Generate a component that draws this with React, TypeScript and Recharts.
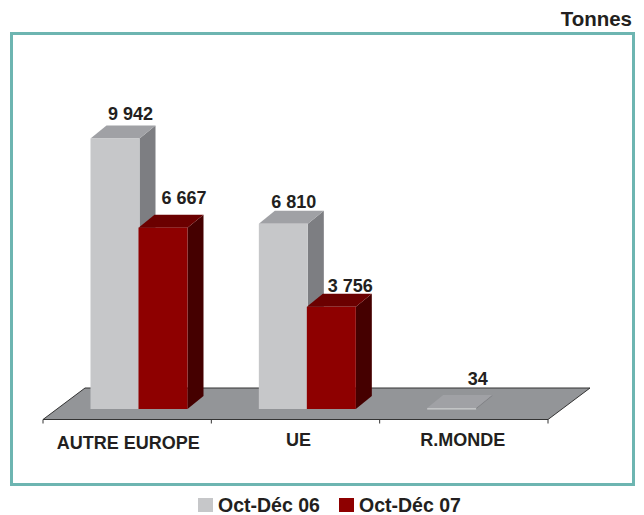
import React from 'react';
import { BarChart, Bar, XAxis, YAxis, Legend, LabelList, ReferenceArea } from 'recharts';

const categories = ['AUTRE EUROPE', 'UE', 'R.MONDE'];
const series06 = [9942, 6810, 34];
const series07 = [6667, 3756, null];
const name06 = 'Oct-Déc 06';
const name07 = 'Oct-Déc 07';
const unit = 'Tonnes';

const tableData = categories.map((c, i) => ({ cat: c, a: series06[i], b: series07[i] }));

const INK = '#231f20';
const FONT = '"Liberation Sans", Arial, sans-serif';
const SHIFT_X = 11.5;
const SHIFT_Y = 10.5;
const DX = 16;
const DY = 13;

const grey = { front: '#c6c7c9', top: '#a0a1a5', side: '#7d7e82' };
const red = { front: '#8e0000', top: '#6b0000', side: '#450000' };

const makeBox = (c: typeof grey) => (p: any) => {
  const x = p.x + SHIFT_X;
  const w = p.width;
  const top = p.y - SHIFT_Y;
  const bottom = p.y + p.height - SHIFT_Y;
  return (
    <g>
      <polygon points={`${x + w},${top} ${x + w + DX},${top - DY} ${x + w + DX},${bottom - DY} ${x + w},${bottom}`} fill={c.side} />
      <polygon points={`${x},${top} ${x + DX},${top - DY} ${x + w + DX},${top - DY} ${x + w},${top}`} fill={c.top} />
      <rect x={x} y={top} width={w} height={Math.max(p.height, 1.5)} fill={c.front} />
    </g>
  );
};

const Floor = (p: any) => {
  const x = p.x;
  const w = p.width;
  const b = p.y + p.height;
  const n = categories.length;
  return (
    <g>
      <polygon points={`${x},${b} ${x + w},${b} ${x + w + 42},${b - 31.5} ${x + 42},${b - 31.5}`} fill="#939598" stroke="#333" strokeWidth={1} />
      {Array.from({ length: n + 1 }).map((_, i) => (
        <line key={i} x1={x + (w * i) / n} x2={x + (w * i) / n} y1={b} y2={b + 4} stroke="#333" strokeWidth={1} />
      ))}
    </g>
  );
};

const tickDy = [17, 14, 14];
const tickDx = [1, 3, -1];
const CatTick = (p: any) => (
  <text x={p.x + tickDx[p.index]} y={p.y + tickDy[p.index]} textAnchor="middle" dominantBaseline="middle" fontFamily={FONT} fontSize={18} fontWeight={700} fill={INK}>
    {p.payload.value}
  </text>
);

const fmt = (v: number) => String(v).replace(/\B(?=(\d{3})+$)/g, ' ');
const labelOffsetA = [[15.5, 23], [10.5, 21], [26, 28]];
const labelOffsetB = [[21, 28], [19, 20], [0, 0]];
const makeLabel = (off: number[][]) => (p: any) => {
  if (p.value == null) return null;
  const o = off[p.index];
  return (
    <text x={p.x + SHIFT_X + p.width / 2 + o[0]} y={p.y - SHIFT_Y - o[1]} textAnchor="middle" dominantBaseline="middle" fontFamily={FONT} fontSize={18} fontWeight={700} fill={INK}>
      {fmt(p.value)}
    </text>
  );
};

const LegendBox = (p: any) => (
  <div style={{ position: 'relative', width: 644, height: 20 }}>
    {(p.payload || []).map((e: any, i: number) => (
      <div key={i} style={{ position: 'absolute', left: 198 + i * 141, top: 0, height: 20, whiteSpace: 'nowrap' }}>
        <span style={{ position: 'absolute', left: 0, top: 3, width: 15, height: 14, background: e.color }} />
        <span style={{ position: 'absolute', left: 20, top: 0, lineHeight: '20px', fontSize: 19.5, fontWeight: 700, color: INK }}>{e.value}</span>
      </div>
    ))}
  </div>
);

export default function App() {
  return (
    <div style={{ position: 'absolute', left: 0, top: 0, width: 644, height: 515, background: '#fff', fontFamily: FONT }}>
      <div style={{ position: 'absolute', left: 10, top: 32, width: 619, height: 448, border: '3px solid #6db5b1' }} />
      <div style={{ position: 'absolute', right: 12, top: 8, fontSize: 20.5, fontWeight: 700, color: INK, lineHeight: '22px' }}>{unit}</div>
      <div style={{ position: 'absolute', left: 0, top: 0 }}>
        <BarChart width={644} height={515} data={tableData} margin={{ left: 43, right: 96, top: 93.1, bottom: 45.5 }} barSize={49} barGap={-1}>
          <YAxis hide domain={[0, 12000]} />
          <ReferenceArea y1={0} y2={1000} shape={Floor} ifOverflow="visible" />
          <XAxis dataKey="cat" axisLine={{ stroke: '#333' }} tickLine={false} tick={CatTick} height={30} interval={0} />
          <Legend height={20} verticalAlign="bottom" content={LegendBox} wrapperStyle={{ left: 0, width: 644, bottom: 0, fontFamily: FONT }} />
          <Bar dataKey="a" name={name06} fill={grey.front} shape={makeBox(grey)} isAnimationActive={false}>
            <LabelList dataKey="a" content={makeLabel(labelOffsetA)} />
          </Bar>
          <Bar dataKey="b" name={name07} fill={red.front} shape={makeBox(red)} isAnimationActive={false}>
            <LabelList dataKey="b" content={makeLabel(labelOffsetB)} />
          </Bar>
        </BarChart>
      </div>
    </div>
  );
}
